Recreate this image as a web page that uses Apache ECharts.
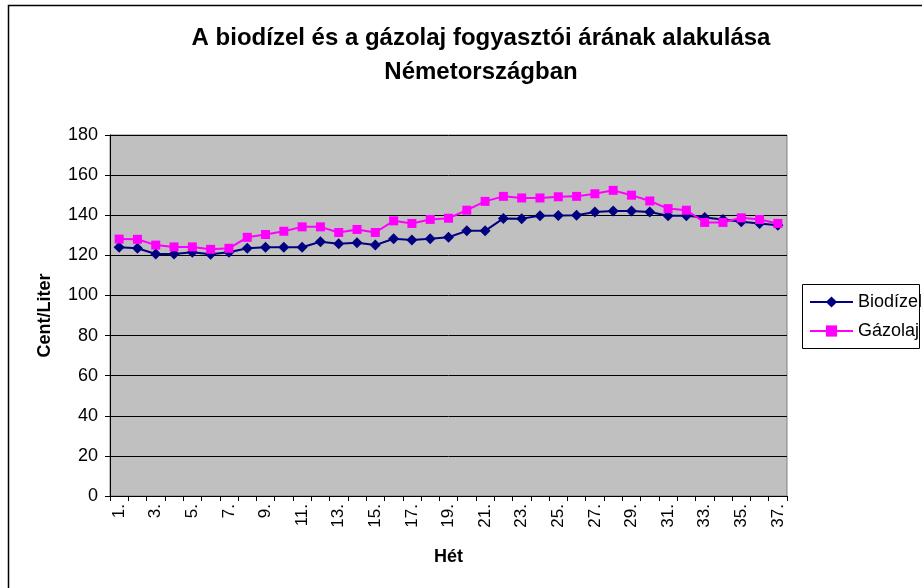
<!DOCTYPE html>
<html>
<head>
<meta charset="utf-8">
<script src="https://cdn.jsdelivr.net/npm/echarts@6/dist/echarts.min.js"></script>
<style>
  html, body { margin: 0; padding: 0; background: #fff; }
  #chart { width: 922px; height: 588px; }
</style>
</head>
<body>
<div id="chart"></div>
<script>
var weeks = [];
for (var w = 1; w <= 37; w++) { weeks.push(w + '.'); }

var biodizel = [124, 123.5, 120.7, 120.7, 121.5, 120.5, 121.5, 123.5, 124, 124, 124, 126.8, 125.8,
                126.3, 125.1, 128.3, 127.6, 128.3, 129, 132.2, 132.2, 138.4, 138.3, 139.7, 139.8,
                140, 141.6, 142.1, 142.1, 141.6, 139.7, 139.7, 138.9, 137.9, 136.7, 135.9, 135];
var gazolaj = [128.1, 128, 125.1, 124.2, 124.2, 123, 123.5, 129, 130.4, 132, 134.2, 134.2, 131.4,
               132.9, 131.4, 137.2, 135.9, 137.9, 138.5, 142.5, 146.9, 149.4, 148.6, 148.6, 149.2,
               149.4, 150.7, 152.4, 150, 147.1, 143.3, 142.5, 136.4, 136.4, 138.7, 137.9, 135.9];

var yTicks = { min: 0, max: 180, step: 20 };

window.onload = function () {
    var myChart = echarts.init(document.getElementById('chart'));
    var font = 'Arial, "Liberation Sans", sans-serif';
    var option = {
        animation: false,
        textStyle: { fontFamily: font },
        title: {
            text: 'A biodízel és a gázolaj fogyasztói árának alakulása\nNémetországban',
            left: 476,
            top: 16,
            textAlign: 'center',
            textStyle: { fontSize: 24, fontWeight: 'bold', color: '#000', lineHeight: 34, fontFamily: font }
        },
        graphic: [
            { type: 'rect', shape: { x: 8.5, y: 5.5, width: 1000, height: 1000 },
              style: { fill: 'none', stroke: '#000', lineWidth: 1.5 } },
            { type: 'rect', shape: { x: 802.5, y: 284.5, width: 117, height: 64 },
              style: { fill: '#fff', stroke: '#000', lineWidth: 1 }, z: 0 }
        ],
        legend: {
            orient: 'vertical',
            left: 809,
            top: 293,
            itemWidth: 43,
            itemHeight: 14,
            itemGap: 11,
            padding: 0,
            z: 10,
            textStyle: { fontSize: 18, color: '#000', fontFamily: font },
            data: ['Biodízel', 'Gázolaj']
        },
        grid: {
            left: 110, top: 135, right: 135, bottom: 92,
            show: true, backgroundColor: '#C0C0C0', borderColor: '#808080', borderWidth: 1
        },
        xAxis: {
            type: 'category',
            data: weeks,
            boundaryGap: true,
            name: 'Hét',
            nameLocation: 'middle',
            nameGap: 52,
            nameTextStyle: { fontSize: 18, fontWeight: 'bold', color: '#000', fontFamily: font },
            axisLine: { lineStyle: { color: '#000', width: 1 } },
            axisTick: { show: true, interval: 0, length: 5, lineStyle: { color: '#000' } },
            axisLabel: { interval: 1, rotate: 90, fontSize: 17, color: '#000', margin: 8, fontFamily: font }
        },
        yAxis: {
            type: 'value',
            min: yTicks.min, max: yTicks.max, interval: yTicks.step,
            name: 'Cent/Liter',
            nameLocation: 'middle',
            nameGap: 56,
            nameTextStyle: { fontSize: 18, fontWeight: 'bold', color: '#000', fontFamily: font },
            axisLine: { show: true, lineStyle: { color: '#000', width: 1 } },
            axisTick: { show: true, length: 5, lineStyle: { color: '#000' } },
            axisLabel: { fontSize: 18, color: '#000', margin: 12, fontFamily: font },
            splitLine: { show: true, lineStyle: { color: '#000', width: 1 } }
        },
        series: [
            {
                name: 'Biodízel', type: 'line', data: biodizel,
                symbol: 'diamond', symbolSize: 11,
                itemStyle: { color: '#000080' },
                lineStyle: { color: '#000080', width: 2 }
            },
            {
                name: 'Gázolaj', type: 'line', data: gazolaj,
                symbol: 'rect', symbolSize: 9,
                itemStyle: { color: '#FF00FF' },
                lineStyle: { color: '#FF00FF', width: 2 }
            }
        ]
    };
    myChart.setOption(option);
};
</script>
</body>
</html>
